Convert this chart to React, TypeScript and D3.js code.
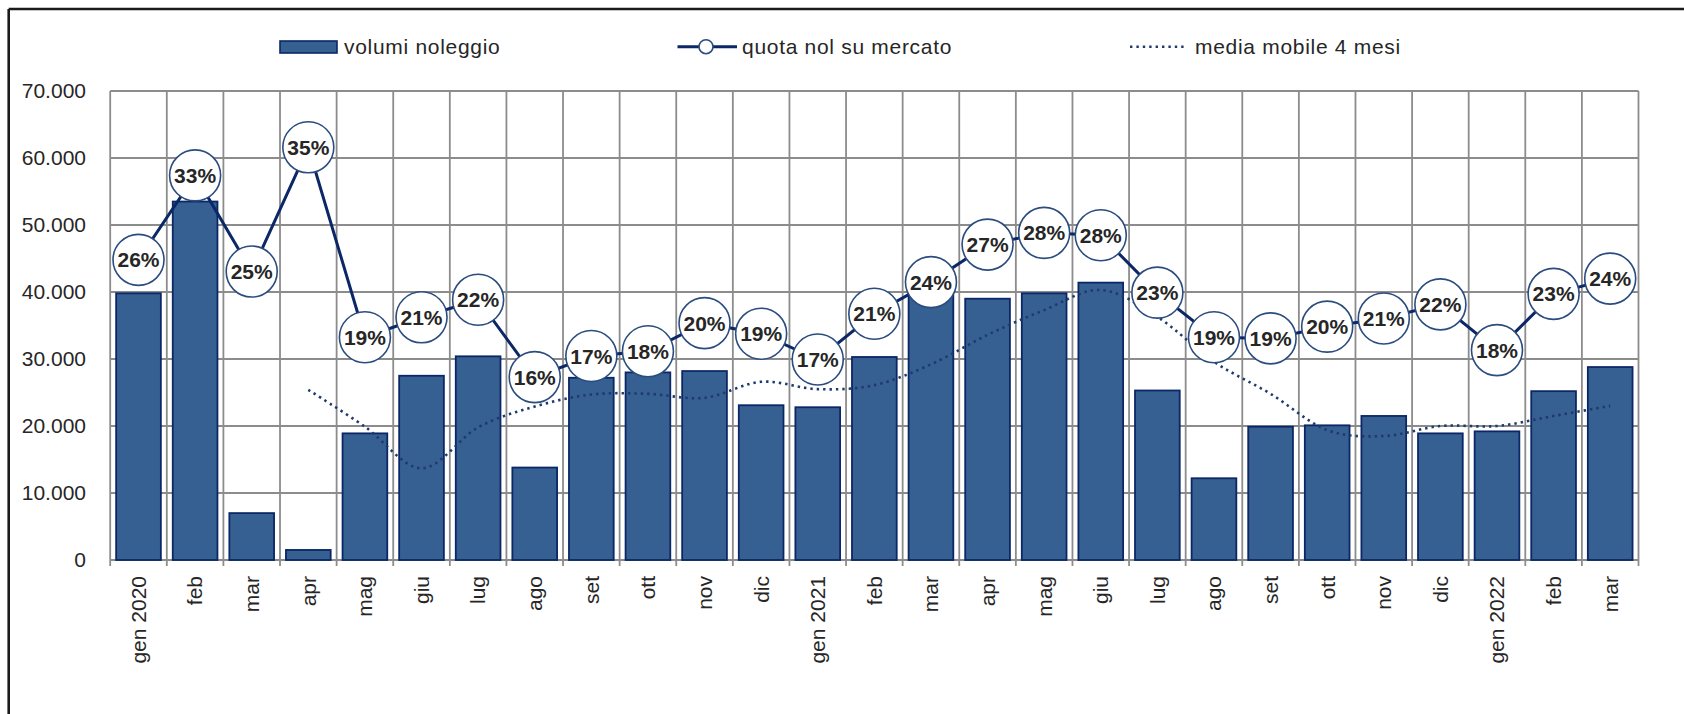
import React from "react";
import * as d3 from "d3";

const months = ["gen 2020","feb","mar","apr","mag","giu","lug","ago","set","ott","nov","dic","gen 2021","feb","mar","apr","mag","giu","lug","ago","set","ott","nov","dic","gen 2022","feb","mar"];
const volumi = [39800, 53500, 7000, 1500, 18900, 27500, 30400, 13800, 27200, 28000, 28200, 23100, 22800, 30300, 40500, 39000, 39800, 41400, 25300, 12200, 19900, 20100, 21500, 18900, 19200, 25200, 28800];
const quota = [0.256, 0.328, 0.246, 0.352, 0.190, 0.207, 0.222, 0.156, 0.174, 0.178, 0.202, 0.193, 0.171, 0.210, 0.237, 0.269, 0.279, 0.277, 0.228, 0.190, 0.189, 0.199, 0.206, 0.218, 0.179, 0.227, 0.240];
const mediaMobile: (number | null)[] = [null, null, null, 25400, 19900, 13700, 19800, 22900, 24700, 24800, 24200, 26600, 25500, 26100, 29200, 33600, 37300, 40300, 36300, 29600, 24800, 19400, 18500, 20000, 20000, 21500, 23000];
const yTicks = [0, 10000, 20000, 30000, 40000, 50000, 60000, 70000];

const W = 1684, H = 714;
const X0 = 110.2, X1 = 1638.5, Y0 = 560, Y1 = 91;
const FONT = "'Liberation Sans', Arial, sans-serif";
const TXT = "#262626";
const GRID = "#8c8c8c";
const BAR = "#365f92";
const NAVY = "#0b2766";
const CIRC = "#2b4c7e";

const fmt = (v: number) => v === 0 ? "0" : d3.format(",")(v).replace(/,/g, ".");

export default function App() {
  const idx = months.map((_, i) => i);
  const x = d3.scaleBand<number>().domain(idx).range([X0, X1]).paddingInner(0.21).paddingOuter(0.105);
  const step = x.step();
  const cx = (i: number) => (x(i) as number) + x.bandwidth() / 2;
  const y = d3.scaleLinear().domain([0, 70000]).range([Y0, Y1]);
  const y2 = d3.scaleLinear().domain([0, 0.4]).range([Y0, Y1]);

  const quotaLine = d3.line<number>().x((_, i) => cx(i)).y(d => y2(d))(quota) || "";
  const maLine = d3.line<number | null>()
    .defined(d => d != null)
    .x((_, i) => cx(i))
    .y(d => y(d as number))
    .curve(d3.curveCatmullRom.alpha(0))(mediaMobile) || "";

  const boundaries = d3.range(months.length + 1).map(i => X0 + i * step);
  const legY = 46.7;

  return (
    <svg width={W} height={H} style={{ position: "absolute", left: 0, top: 0, background: "#fff" }} fontFamily={FONT}>
      <rect x={0} y={0} width={W} height={H} fill="#fff" />
      {/* outer border */}
      <line x1={8.7} y1={9} x2={W} y2={9} stroke="#1a1a1a" strokeWidth={2.6} />
      <line x1={8.7} y1={9} x2={8.7} y2={H} stroke="#1a1a1a" strokeWidth={2.6} />

      {/* horizontal gridlines */}
      {yTicks.map(t => (
        <line key={"h" + t} x1={X0} x2={X1} y1={y(t)} y2={y(t)} stroke={GRID} strokeWidth={1.8} />
      ))}
      {/* vertical gridlines + ticks */}
      {boundaries.map((bx, i) => (
        <line key={"v" + i} x1={bx} x2={bx} y1={Y1} y2={Y0 + 6} stroke={GRID} strokeWidth={1.8} />
      ))}

      {/* y tick labels */}
      {yTicks.map(t => (
        <text key={"yl" + t} x={86} y={y(t)} dy="0.35em" textAnchor="end" fontSize={21} fill={TXT}>{fmt(t)}</text>
      ))}

      {/* bars */}
      {volumi.map((v, i) => (
        <rect key={"b" + i} x={x(i)} y={y(v)} width={x.bandwidth()} height={Y0 - y(v)} fill={BAR} stroke={NAVY} strokeWidth={1.8} />
      ))}

      {/* moving average */}
      <path d={maLine} fill="none" stroke="#1f3a6e" strokeWidth={2.6} strokeDasharray="2.4 4" strokeLinecap="butt" />

      {/* quota line */}
      <path d={quotaLine} fill="none" stroke={NAVY} strokeWidth={3} />
      {quota.map((q, i) => (
        <g key={"q" + i}>
          <circle cx={cx(i)} cy={y2(q)} r={25.5} fill="#fff" stroke={CIRC} strokeWidth={1.6} />
          <text x={cx(i)} y={y2(q)} dy="0.36em" textAnchor="middle" fontSize={21} fontWeight="bold" fill={TXT}>
            {Math.round(q * 100) + "%"}
          </text>
        </g>
      ))}

      {/* x labels */}
      {months.map((m, i) => (
        <text key={"xl" + i} transform={`translate(${cx(i)},576) rotate(-90)`} dy="0.35em" textAnchor="end" fontSize={21} fill={TXT}>{m}</text>
      ))}

      {/* legend */}
      <rect x={280} y={41} width={57} height={12} fill={BAR} stroke={NAVY} strokeWidth={1.6} />
      <text x={344} y={legY} dy="0.35em" fontSize={21} letterSpacing={0.7} fill={TXT}>volumi noleggio</text>

      <line x1={677.5} x2={737} y1={legY} y2={legY} stroke={NAVY} strokeWidth={3} />
      <circle cx={706} cy={legY} r={7} fill="#fff" stroke={CIRC} strokeWidth={1.6} />
      <text x={742} y={legY} dy="0.35em" fontSize={21} letterSpacing={0.7} fill={TXT}>quota nol su mercato</text>

      <line x1={1130} x2={1185} y1={legY} y2={legY} stroke="#1f3a6e" strokeWidth={2.6} strokeDasharray="2.4 4" />
      <text x={1195} y={legY} dy="0.35em" fontSize={21} letterSpacing={0.7} fill={TXT}>media mobile 4 mesi</text>
    </svg>
  );
}
